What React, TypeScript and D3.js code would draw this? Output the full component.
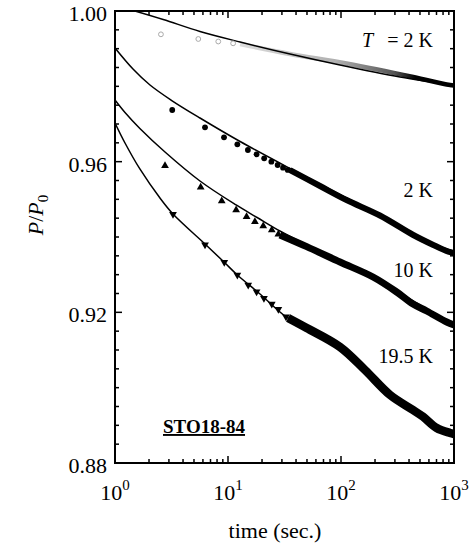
import React from "react";
import * as d3 from "d3";

const W = 474;
const H = 550;
const M = { left: 115, right: 20, top: 11, bottom: 87 };

// axis labels
const decades = [1, 10, 100, 1000];
const yLabels = [0.88, 0.92, 0.96, 1.0];

// fitted curves, [t (s), P/P0]
const fitA = [[1.5, 1.0], [2.67, 0.99774], [5.65, 0.99456], [12.8, 0.99177], [35.4, 0.98858], [98, 0.98566], [333, 0.98248], [1000, 0.98022]];
const fitB = [[1, 0.99018], [1.443, 0.9846], [2.04, 0.98035], [3.13, 0.97637], [5.65, 0.97159], [12.8, 0.96535], [35.4, 0.95819], [112, 0.95035], [221, 0.94584], [436, 0.94076], [656, 0.93815], [1000, 0.93615]];
const fit10 = [[1, 0.97637], [1.226, 0.97305], [1.66, 0.96881], [2.77, 0.96257], [5.65, 0.95487], [11.8, 0.9485], [18.1, 0.94518], [28.8, 0.94159], [49.7, 0.93788], [98, 0.93363], [192, 0.92951], [311, 0.92593], [434, 0.92301], [573, 0.92089], [862, 0.91797], [1000, 0.9169]];
const fit195 = [[1, 0.97027], [1.226, 0.96496], [1.66, 0.95806], [2.5, 0.95035], [3.26, 0.94611], [6.26, 0.93814], [9.22, 0.93336], [12.1, 0.92991], [19.2, 0.92487], [32.6, 0.91884], [49.7, 0.91584], [98, 0.9108], [163, 0.90469], [272, 0.89832], [434, 0.89434], [703, 0.88956], [1000, 0.88797]];

// early, resolved data points
const ptsA = [[2.55, 0.99381], [5.46, 0.99257], [8.2, 0.9919], [11.1, 0.99142]];
const ptsB = [[3.21, 0.97372], [6.26, 0.96912], [9.22, 0.96647], [12.1, 0.96461], [15.0, 0.9631], [17.9, 0.96195], [20.9, 0.96089], [24.2, 0.96], [27.5, 0.95912], [30.7, 0.95841], [33.8, 0.9578]];
const pts10 = [[2.77, 0.95893], [5.73, 0.9532], [8.8, 0.94956], [11.8, 0.94717], [14.6, 0.94539], [17.3, 0.94406], [20.5, 0.94292], [24.4, 0.94186], [27.9, 0.94072]];
const pts195 = [[3.26, 0.94605], [6.26, 0.93796], [9.27, 0.93328], [12.1, 0.92991], [15.1, 0.92726], [17.9, 0.92548], [20.8, 0.92373], [24.4, 0.92221], [27.9, 0.9208], [32.6, 0.91884]];

// later data, so dense the markers merge into a band
const bandA = [[12.8, 0.99124], [35.4, 0.98858], [112, 0.98606], [436, 0.98248], [862, 0.98049], [1000, 0.98022]];
const bandB = [[35.4, 0.95774], [65.2, 0.95354], [112, 0.94982], [221, 0.94571], [436, 0.94053], [656, 0.93788], [891, 0.9361], [1000, 0.93575]];
const band10 = [[28.8, 0.94053], [49.7, 0.93743], [98, 0.93336], [192, 0.92938], [311, 0.9254], [434, 0.92221], [573, 0.92036], [862, 0.91743], [1000, 0.91664]];
const band195 = [[34.0, 0.9185], [49.7, 0.91584], [98, 0.9108], [163, 0.90469], [272, 0.89805], [434, 0.89407], [532, 0.89229], [703, 0.88929], [922, 0.88797], [1000, 0.8877]];

const FONT = "'Liberation Serif', 'Times New Roman', serif";

export default function App() {
  const x = d3.scaleLog().domain([1, 1000]).range([M.left, W - M.right]);
  const y = d3.scaleLinear().domain([0.88, 1.0]).range([H - M.bottom, M.top]);
  const x0 = M.left, x1 = W - M.right, y0 = M.top, y1 = H - M.bottom;

  const fitLine = d3.line<number[]>().x(d => x(d[0])).y(d => y(d[1])).curve(d3.curveCatmullRom.alpha(0.5));
  const bandLine = d3.line<number[]>().x(d => x(d[0])).y(d => y(d[1])).curve(d3.curveCatmullRom);

  const xTicks = x.ticks();
  const yTicks = y.ticks(24);
  const tri = d3.symbol(d3.symbolTriangle, 26)();

  return (
    <svg width={W} height={H} style={{ display: "block", position: "absolute", left: 0, top: 0, background: "#fff" }} fontFamily={FONT}>
      <defs>
        <clipPath id="plot">
          <rect x={x0} y={y0} width={x1 - x0} height={y1 - y0} />
        </clipPath>
        <linearGradient id="fadeA" gradientUnits="userSpaceOnUse" x1={x(12.8)} x2={x(1000)} y1={0} y2={0}>
          <stop offset="0" stopColor="#ddd" />
          <stop offset="0.45" stopColor="#b0b0b0" />
          <stop offset="0.72" stopColor="#555" />
          <stop offset="0.82" stopColor="#000" />
          <stop offset="1" stopColor="#000" />
        </linearGradient>
      </defs>

      {/* ticks, inward on all four sides */}
      {xTicks.map((t, i) => {
        const major = decades.includes(t);
        const len = major ? 7 : 4;
        return (
          <g key={"xt" + i} stroke="#000" strokeWidth={1.5}>
            <line x1={x(t)} x2={x(t)} y1={y1} y2={y1 - len} />
            <line x1={x(t)} x2={x(t)} y1={y0} y2={y0 + len} />
          </g>
        );
      })}
      {yTicks.map((v, i) => {
        const major = yLabels.some(l => Math.abs(l - v) < 1e-6);
        const len = major ? 7 : 4;
        return (
          <g key={"yt" + i} stroke="#000" strokeWidth={1.5}>
            <line x1={x0} x2={x0 + len} y1={y(v)} y2={y(v)} />
            <line x1={x1} x2={x1 - len} y1={y(v)} y2={y(v)} />
          </g>
        );
      })}

      <g clipPath="url(#plot)" fill="none">
        {/* dense bands */}
        <path d={bandLine(bandA) || ""} stroke="url(#fadeA)" strokeWidth={4.5} />
        <path d={bandLine(bandB) || ""} stroke="#000" strokeWidth={6} />
        <path d={bandLine(band10) || ""} stroke="#000" strokeWidth={7} />
        <path d={bandLine(band195) || ""} stroke="#000" strokeWidth={8.5} />

        {/* fits */}
        {[fitA, fitB, fit10, fit195].map((f, i) => (
          <path key={"fit" + i} d={fitLine(f) || ""} stroke="#000" strokeWidth={1.5} />
        ))}
      </g>

      {/* resolved markers */}
      {ptsA.map((d, i) => (
        <circle key={"a" + i} cx={x(d[0])} cy={y(d[1])} r={2.4} fill="none" stroke="#aaa" strokeWidth={1} />
      ))}
      {ptsB.map((d, i) => (
        <circle key={"b" + i} cx={x(d[0])} cy={y(d[1])} r={2.9} fill="#000" />
      ))}
      {pts10.map((d, i) => (
        <path key={"c" + i} d={tri || ""} transform={`translate(${x(d[0])},${y(d[1])})`} fill="#000" />
      ))}
      {pts195.map((d, i) => (
        <path key={"d" + i} d={tri || ""} transform={`translate(${x(d[0])},${y(d[1])}) rotate(180)`} fill="#000" />
      ))}

      {/* frame */}
      <rect x={x0} y={y0} width={x1 - x0} height={y1 - y0} fill="none" stroke="#000" strokeWidth={2} />

      {/* tick labels */}
      {yLabels.map(v => (
        <text key={"yl" + v} x={x0 - 8} y={y(v) + 10} textAnchor="end" fontSize={22}>
          {d3.format(".2f")(v)}
        </text>
      ))}
      {decades.map(t => (
        <text key={"xl" + t} x={x(t)} y={y1 + 37} textAnchor="middle" fontSize={22}>
          10<tspan dy={-10} fontSize={15}>{Math.round(Math.log10(t))}</tspan>
        </text>
      ))}

      {/* axis titles */}
      <text x={275} y={538} textAnchor="middle" fontSize={22}>time (sec.)</text>
      <text transform="translate(43,215) rotate(-90)" textAnchor="middle" fontSize={22}>
        <tspan fontStyle="italic">P</tspan>/<tspan fontStyle="italic">P</tspan>
        <tspan dy={5} fontSize={15}>0</tspan>
      </text>

      {/* curve labels */}
      <text x={362} y={47} fontSize={20} fontStyle="italic">T</text>
      <text x={433} y={47} fontSize={20} textAnchor="end">= 2 K</text>
      <text x={433} y={197} fontSize={20} textAnchor="end">2 K</text>
      <text x={433} y={277} fontSize={20} textAnchor="end">10 K</text>
      <text x={433} y={363} fontSize={20} textAnchor="end">19.5 K</text>
      <text x={163} y={433} fontSize={19} fontWeight="bold" textDecoration="underline">STO18-84</text>
    </svg>
  );
}
